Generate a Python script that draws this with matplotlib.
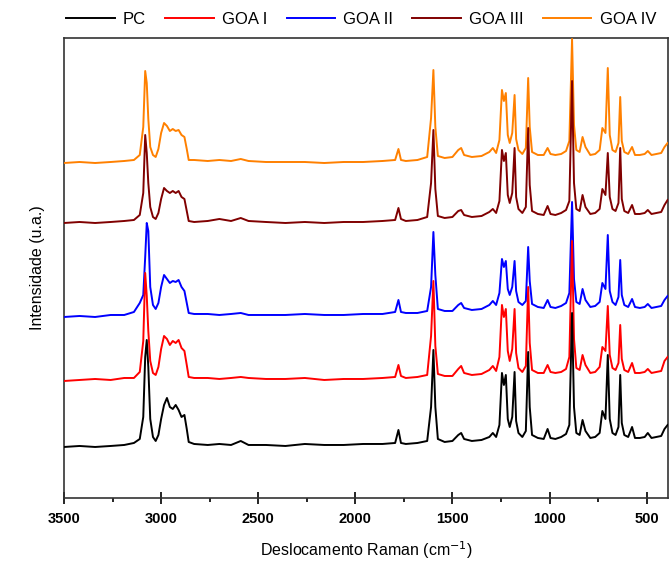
import matplotlib
matplotlib.use("Agg")
import matplotlib.pyplot as plt
from matplotlib.ticker import MultipleLocator

plt.rcParams['font.family'] = ['Liberation Sans', 'DejaVu Sans']

# Raman shift grid (cm-1), shared by all spectra
shift = [3500, 3420, 3340, 3260, 3190, 3140, 3110, 3092, 3082, 3074,
         3066, 3056, 3042, 3028, 3014, 3000, 2985, 2970, 2955, 2940,
         2925, 2910, 2895, 2880, 2868, 2858, 2830, 2760, 2700, 2640,
         2590, 2550, 2460, 2360, 2260, 2160, 2060, 1960, 1860, 1795,
         1778, 1765, 1740, 1680, 1630, 1610, 1598, 1588, 1575, 1540,
         1500, 1470, 1455, 1440, 1400, 1350, 1310, 1292, 1275, 1258,
         1245, 1235, 1225, 1215, 1205, 1192, 1180, 1172, 1160, 1140,
         1122, 1110, 1102, 1090, 1060, 1030, 1010, 995, 970, 940,
         915, 898, 884, 874, 862, 845, 830, 815, 790, 765,
         742, 728, 712, 700, 690, 676, 660, 645, 636, 628,
         615, 595, 575, 560, 535, 510, 494, 475, 450, 425,
         408, 392]

# intensities (arbitrary units, above each trace's own offset)
pc = [0, 1, 0, 1, 2, 4, 8, 30, 90, 107,
      80, 28, 10, 6, 12, 28, 42, 49, 40, 38,
      42, 37, 30, 32, 18, 5, 3, 2, 3, 2,
      6, 2, 2, 1, 3, 2, 2, 3, 3, 4,
      17, 4, 3, 4, 6, 40, 97, 40, 8, 5,
      6, 12, 14, 8, 6, 7, 10, 14, 10, 22,
      74, 62, 72, 28, 20, 30, 75, 26, 14, 10,
      16, 95, 40, 12, 9, 8, 18, 9, 8, 10,
      13, 22, 134, 40, 14, 12, 27, 16, 9, 10,
      14, 36, 28, 92, 28, 14, 12, 20, 72, 24,
      12, 10, 20, 9, 9, 10, 14, 9, 10, 11,
      18, 22]

goa1 = [0, 1, 2, 1, 3, 3, 9, 40, 108, 85,
        50, 20, 8, 6, 14, 32, 45, 42, 36, 40,
        38, 41, 33, 30, 16, 4, 3, 3, 2, 3,
        4, 3, 2, 2, 3, 1, 2, 2, 3, 4,
        16, 5, 3, 4, 6, 45, 100, 35, 7, 5,
        5, 12, 15, 8, 6, 7, 11, 15, 10, 24,
        76, 64, 72, 30, 20, 32, 72, 28, 13, 9,
        15, 94, 38, 11, 8, 8, 16, 9, 8, 9,
        12, 24, 140, 42, 13, 11, 26, 16, 8, 9,
        14, 34, 30, 75, 26, 13, 11, 18, 56, 22,
        11, 9, 18, 8, 8, 9, 12, 8, 9, 10,
        20, 24]

goa2 = [0, 1, 0, 2, 2, 5, 14, 22, 60, 94,
        86, 30, 12, 8, 14, 30, 42, 38, 34, 36,
        35, 37, 30, 26, 14, 4, 3, 3, 2, 3,
        4, 2, 2, 2, 3, 2, 2, 3, 3, 5,
        17, 5, 4, 4, 6, 30, 85, 42, 8, 6,
        6, 12, 14, 9, 7, 8, 12, 16, 12, 24,
        58, 50, 56, 28, 22, 30, 56, 26, 15, 12,
        16, 70, 36, 13, 10, 9, 17, 10, 9, 11,
        14, 24, 115, 38, 15, 13, 28, 17, 10, 11,
        15, 34, 28, 82, 26, 15, 12, 20, 57, 22,
        12, 10, 18, 10, 9, 10, 13, 9, 10, 11,
        17, 21]

goa3 = [0, 1, 0, 1, 2, 3, 8, 30, 88, 70,
        40, 16, 6, 4, 10, 24, 35, 32, 30, 32,
        30, 32, 26, 24, 12, 2, 1, 2, 4, 2,
        5, 2, 1, 0, 1, 0, 1, 1, 2, 3,
        15, 4, 2, 3, 6, 40, 93, 34, 7, 5,
        6, 12, 13, 8, 6, 7, 11, 14, 10, 22,
        73, 62, 70, 28, 20, 30, 75, 26, 14, 10,
        16, 95, 38, 12, 9, 8, 17, 9, 8, 10,
        13, 22, 142, 40, 14, 12, 28, 16, 9, 10,
        14, 34, 28, 70, 26, 14, 12, 20, 75, 24,
        12, 10, 18, 9, 9, 10, 13, 9, 10, 11,
        18, 23]

goa4 = [0, 1, 0, 1, 2, 3, 8, 36, 92, 80,
        44, 16, 8, 6, 14, 30, 40, 37, 32, 34,
        32, 33, 28, 26, 14, 3, 3, 2, 3, 2,
        4, 2, 1, 1, 1, 0, 1, 1, 2, 3,
        14, 3, 2, 3, 6, 45, 93, 36, 7, 5,
        6, 13, 15, 8, 6, 7, 11, 15, 10, 23,
        73, 62, 70, 28, 20, 30, 68, 24, 13, 9,
        15, 85, 36, 11, 8, 8, 15, 9, 8, 9,
        12, 22, 124, 38, 13, 11, 26, 16, 8, 9,
        13, 35, 30, 95, 28, 13, 11, 20, 66, 22,
        11, 9, 16, 8, 8, 9, 12, 8, 9, 10,
        16, 20]

labels = ["PC", "GOA I", "GOA II", "GOA III", "GOA IV"]
offsets = [51, 117, 181, 275, 335]
colors = ["#000000", "#ff0000", "#0000ff", "#800000", "#ff8000"]
series = [pc, goa1, goa2, goa3, goa4]

fig = plt.figure(figsize=(6.69, 5.63), dpi=100)
ax = fig.add_axes([0.0957, 0.1155, 0.9028, 0.817])

lines = []
for i, (vals, off, col, lab) in enumerate(zip(series, offsets, colors, labels)):
    y = [v + off for v in vals]
    ln, = ax.plot(shift, y, color=col, lw=1.4, label=lab, zorder=10 - i)
    lines.append(ln)

ax.set_xlim(3500, 390)
ax.set_ylim(0, 460)
ax.set_yticks([])
ax.xaxis.set_major_locator(MultipleLocator(500))
ax.xaxis.set_minor_locator(MultipleLocator(250))
ax.tick_params(axis='x', which='major', direction='inout', length=8, width=1.2,
               labelsize=10.5, pad=6)
ax.tick_params(axis='x', which='minor', direction='out', length=3, width=1.2)
for lbl in ax.get_xticklabels():
    lbl.set_fontweight('bold')
for sp in ax.spines.values():
    sp.set_linewidth(1.2)
    sp.set_color("#333333")

ax.set_xlabel("Deslocamento Raman (cm$^{-1}$)", fontsize=11.5, labelpad=10)
ax.set_ylabel("Intensidade (u.a.)", fontsize=11.5, labelpad=14)

fig.legend(lines, labels, loc='upper center', bbox_to_anchor=(0.54, 1.003),
           ncol=5, frameon=False, fontsize=12, handlelength=2.9,
           columnspacing=1.15, handletextpad=0.5, borderpad=0.3)

fig.savefig("out.png", dpi=100)
